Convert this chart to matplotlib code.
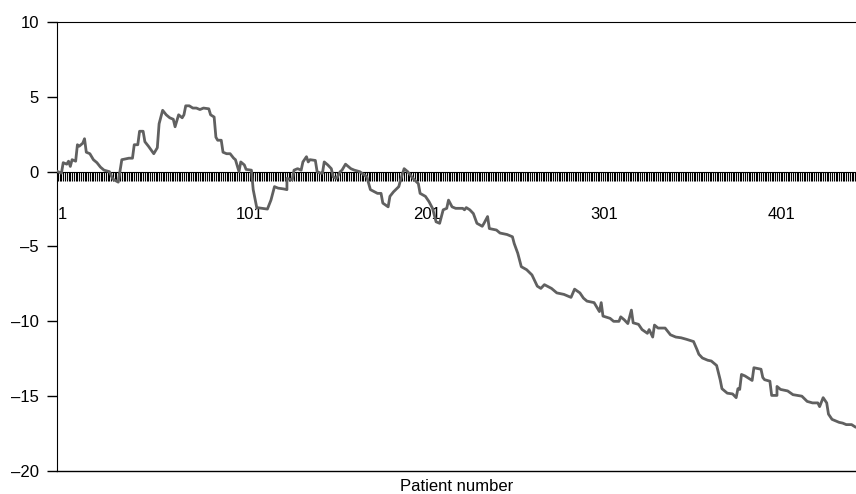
"""CUSUM curve by patient number"""
import matplotlib.pyplot as plt
from matplotlib.ticker import FixedLocator

plt.rcParams["font.family"] = ["Liberation Sans", "DejaVu Sans"]

# Patient number and cumulative value
patients = [
    1, 3, 4, 6, 7, 8, 9, 11, 12, 13, 15, 16, 17, 19, 21, 23, 25, 27, 30, 32,
    35, 37, 41, 43, 44, 46, 47, 49, 50, 52, 55, 57, 58, 60, 62, 64, 66, 67, 69, 71,
    72, 73, 75, 77, 79, 81, 83, 86, 87, 89, 90, 91, 93, 94, 96, 98, 100, 101, 103, 104,
    106, 107, 110, 111, 113, 119, 121, 123, 125, 128, 130, 130, 133, 134, 136, 138, 139, 141, 142, 143,
    146, 147, 149, 150, 151, 153, 155, 156, 158, 160, 161, 163, 166, 168, 171, 175, 177, 181, 183, 184,
    187, 188, 190, 193, 194, 196, 198, 201, 204, 205, 208, 210, 212, 214, 216, 218, 220, 221, 223, 225,
    229, 230, 231, 233, 235, 237, 240, 241, 243, 244, 248, 250, 254, 257, 258, 260, 262, 265, 268, 271,
    273, 275, 279, 282, 286, 290, 292, 295, 297, 299, 303, 306, 307, 308, 312, 314, 317, 318, 320, 322,
    324, 325, 328, 330, 333, 334, 336, 337, 339, 343, 346, 349, 352, 355, 359, 361, 362, 364, 367, 369,
    372, 374, 375, 378, 381, 383, 384, 385, 386, 388, 392, 393, 397, 398, 399, 402, 403, 406, 406, 408,
    412, 415, 420, 423, 426, 429, 430, 432, 434, 435, 437, 441, 443, 445, 448, 450,
]
values = [
    0.0, -0.1, 0.6, 0.5, 0.7, 0.35, 0.8, 0.7, 1.8, 1.7, 1.9, 2.2, 1.3, 1.2, 0.8, 0.6, 0.3, 0.1, 0.0, -0.5,
    -0.7, 0.8, 0.9, 0.9, 1.8, 1.8, 2.7, 2.7, 2.0, 1.7, 1.2, 1.6, 3.2, 4.1, 3.8, 3.6, 3.5, 3.0, 3.8, 3.6,
    3.8, 4.4, 4.4, 4.25, 4.25, 4.15, 4.25, 4.2, 3.8, 3.65, 2.3, 2.1, 2.1, 1.3, 1.2, 1.2, 0.9, 0.8, 0.0, 0.65,
    0.45, 0.15, 0.1, -1.2, -2.4, -2.5, -1.9, -1.0, -1.1, -1.15, -1.2, -0.45, -0.55, 0.1, 0.2, 0.1, 0.65, 1.0, 0.65, 0.8,
    0.75, 0.0, -0.1, -0.1, 0.65, 0.45, 0.2, -0.35, -0.45, 0.0, 0.1, 0.5, 0.2, 0.1, 0.0, -0.35, -1.2, -1.45, -1.45, -2.1,
    -2.35, -1.65, -1.35, -1.0, -0.55, 0.2, 0.0, -0.45, -0.8, -1.45, -1.65, -2.0, -2.45, -3.35, -3.45, -2.55, -2.45, -1.9, -2.35, -2.45,
    -2.45, -2.55, -2.4, -2.55, -2.8, -3.45, -3.65, -3.45, -3.0, -3.8, -3.9, -4.1, -4.2, -4.35, -4.8, -5.45, -6.35, -6.55, -6.9, -7.65,
    -7.8, -7.55, -7.8, -8.1, -8.2, -8.4, -7.85, -8.1, -8.45, -8.65, -8.75, -9.35, -8.75, -9.65, -9.8, -10.0, -10.0, -9.7, -9.9, -10.15,
    -9.25, -10.1, -10.2, -10.55, -10.8, -10.55, -11.05, -10.25, -10.45, -10.45, -10.9, -11.05, -11.1, -11.2, -11.35, -11.9, -12.2, -12.45, -12.6, -12.65,
    -12.95, -13.9, -14.5, -14.8, -14.85, -15.1, -14.5, -14.55, -13.55, -13.65, -13.95, -13.1, -13.2, -13.75, -13.9, -14.0, -14.95, -14.95, -14.35, -14.55,
    -14.65, -14.9, -15.0, -15.35, -15.45, -15.45, -15.7, -15.1, -15.45, -16.2, -16.55, -16.75, -16.8, -16.9, -16.9, -17.05,
]
n_patients = 450
x_labels = [1, 101, 201, 301, 401]
y_ticks = [-20, -15, -10, -5, 0, 5, 10]

fig = plt.figure(figsize=(8.56, 4.94), dpi=100)
ax = fig.add_axes([57 / 856, 1 - 471 / 494, 1 - 57 / 856, 449 / 494])

ax.plot(patients, values, color="#606060", linewidth=2.0, zorder=3)

ax.set_xlim(0.5, n_patients + 0.5)
ax.set_ylim(-20, 10)

# Ось X проходит через ноль, рамка сверху и снизу
ax.spines["bottom"].set_position(("data", 0))
ax.spines["right"].set_visible(False)
ax.axhline(-20, color="black", linewidth=1, clip_on=False)

ax.xaxis.set_major_locator(FixedLocator(x_labels))
ax.xaxis.set_minor_locator(FixedLocator(range(1, n_patients + 1)))
ax.set_xticklabels([str(v) for v in x_labels], ha="left")
ax.tick_params(axis="x", which="both", direction="out", length=6.5,
               width=0.8, pad=19, labelsize=12)

ax.set_yticks(y_ticks)
ax.set_yticklabels([f"{v}".replace("-", "\u2013") for v in y_ticks])
ax.tick_params(axis="y", direction="out", length=7, width=1, pad=6, labelsize=12)

ax.set_xlabel("Patient number", fontsize=12)
ax.xaxis.set_label_coords(0.5, -0.018)

fig.savefig("out.png", dpi=100)
